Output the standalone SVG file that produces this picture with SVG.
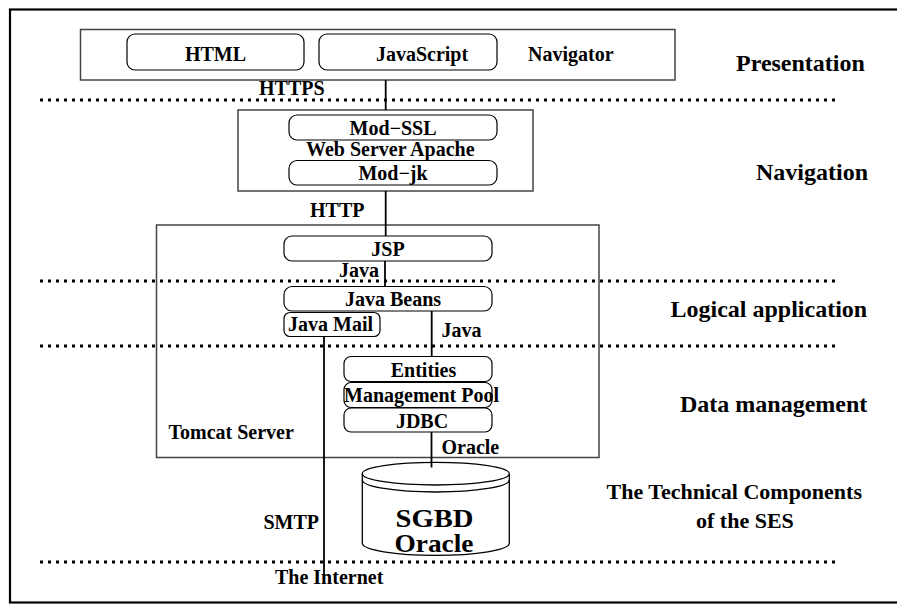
<svg xmlns="http://www.w3.org/2000/svg" width="897" height="605" viewBox="0 0 897 605">
<style>
text{font-family:"Liberation Serif","Times New Roman",serif;font-weight:bold;fill:#000}
.s{font-size:20px}
.l{font-size:24px}
.m{font-size:22px}
.big{font-size:25px}
.c{text-anchor:middle}
.box{fill:none;stroke:#444;stroke-width:1.5}
.rb{fill:#fff;stroke:#000;stroke-width:1.2}
.dot{stroke:#000;stroke-width:3;stroke-dasharray:3 5;fill:none}
.con{stroke:#000;stroke-width:1.8;fill:none}
.cyl{fill:#fff;stroke:#000;stroke-width:1.3}
</style>
<rect width="897" height="605" fill="#fff"/>
<rect x="10" y="9.5" width="895" height="593" fill="none" stroke="#000" stroke-width="2.2"/>
<g id="layers">
<line class="dot" x1="40" y1="100" x2="838" y2="100"/>
<line class="dot" x1="40" y1="281" x2="838" y2="281"/>
<line class="dot" x1="40" y1="346" x2="838" y2="346"/>
<line class="dot" x1="40" y1="562" x2="838" y2="562"/>
<text class="l" x="736" y="70.5">Presentation</text>
<text class="l" x="756" y="180">Navigation</text>
<text class="l" x="670.5" y="316.5">Logical application</text>
<text class="l" x="680" y="411.5">Data management</text>
<text class="m" x="606.5" y="498.5">The Technical Components</text>
<text class="m" x="696" y="528">of the SES</text>
</g>
<g id="navigator">
<rect class="box" x="80.5" y="29.5" width="594.5" height="50.5"/>
<text class="s" x="528" y="60.5">Navigator</text>
</g>
<g id="html">
<rect class="rb" x="127" y="34" width="177" height="36" rx="8"/>
<text class="s c" x="215.5" y="60.5">HTML</text>
</g>
<g id="javascript">
<rect class="rb" x="319" y="34" width="178" height="36" rx="8"/>
<text class="s c" x="422" y="60.5">JavaScript</text>
</g>
<g id="webserver">
<rect class="box" x="238" y="110" width="295" height="81"/>
<text class="s" x="306" y="156">Web Server Apache</text>
</g>
<g id="modssl">
<rect class="rb" x="289" y="115" width="208" height="25" rx="8"/>
<text class="s c" x="393" y="135">Mod−SSL</text>
</g>
<g id="modjk">
<rect class="rb" x="289" y="160.5" width="208" height="24.5" rx="8"/>
<text class="s c" x="393" y="180">Mod−jk</text>
</g>
<g id="tomcat">
<rect class="box" x="156.5" y="225" width="442.5" height="232.5"/>
<text class="s" x="168.5" y="438.5">Tomcat Server</text>
</g>
<g id="jsp">
<rect class="rb" x="284" y="236" width="208" height="25" rx="8"/>
<text class="s c" x="388" y="256">JSP</text>
</g>
<g id="javabeans">
<rect class="rb" x="284" y="286.5" width="208" height="24.5" rx="8"/>
<text class="s c" x="393" y="306">Java Beans</text>
</g>
<g id="javamail">
<rect class="rb" x="284" y="312.5" width="96" height="24" rx="6"/>
<text class="s" x="288" y="330.5">Java Mail</text>
</g>
<g id="entities">
<rect class="rb" x="344" y="356.5" width="148" height="25" rx="7"/>
<text class="s c" x="423.5" y="376.5">Entities</text>
</g>
<g id="pool">
<rect class="rb" x="344" y="382.5" width="148" height="25" rx="7"/>
<text class="s" x="344" y="401.5">Management Pool</text>
</g>
<g id="jdbc">
<rect class="rb" x="344" y="408" width="148" height="24" rx="7"/>
<text class="s c" x="422" y="428">JDBC</text>
</g>
<g id="sgbd">
<path class="cyl" d="M362.3,473.7 V543.3 A73.5,12 0 0 0 509.3,543.3 V473.7"/>
<ellipse class="cyl" cx="435.8" cy="473.7" rx="73.5" ry="11.3"/>
<path class="cyl" d="M362.3,480 A73.5,12 0 0 0 509.3,480" style="fill:none"/>
<text class="big c" x="434.5" y="527" textLength="78" lengthAdjust="spacingAndGlyphs">SGBD</text>
<text class="big c" x="434" y="551.5" textLength="79" lengthAdjust="spacingAndGlyphs">Oracle</text>
</g>
<g id="connectors">
<line class="con" x1="385.7" y1="80" x2="385.7" y2="110"/>
<line class="con" x1="385.7" y1="191" x2="385.7" y2="236"/>
<line class="con" x1="385" y1="261" x2="385" y2="286.5"/>
<line class="con" x1="431.7" y1="311" x2="431.7" y2="356.5"/>
<line class="con" x1="324" y1="336.5" x2="324" y2="575"/>
<line class="con" x1="431.5" y1="432" x2="431.5" y2="467.5"/>
<text class="s" x="259" y="95">HTTPS</text>
<text class="s" x="310" y="217">HTTP</text>
<text class="s" x="339" y="277">Java</text>
<text class="s" x="441.5" y="336.5">Java</text>
<text class="s" x="441.5" y="453.5">Oracle</text>
<text class="s" x="263.5" y="528.5">SMTP</text>
<text class="s" x="275" y="583.5">The Internet</text>
</g>
</svg>
